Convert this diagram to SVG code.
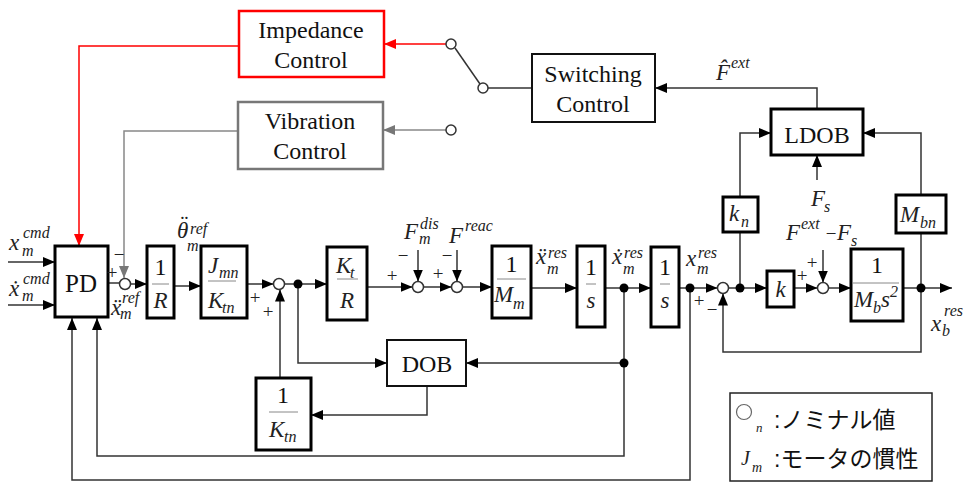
<svg xmlns="http://www.w3.org/2000/svg" width="963" height="482" viewBox="0 0 963 482">
<style>
.box{fill:#fff;stroke:#000;stroke-width:3}
.box2{fill:#fff;stroke:#111;stroke-width:2}
.ln{fill:none;stroke:#333;stroke-width:1.5}
.lr{fill:none;stroke:#f00;stroke-width:1.5}
.lg{fill:none;stroke:#888;stroke-width:1.5}
.sum{fill:#fff;stroke:#333;stroke-width:1.5}
.dot{fill:#000}
.fr{stroke:#888;stroke-width:1}
.t{font-family:"Liberation Serif",serif;font-size:24px;fill:#111;text-anchor:middle}
.n{font-family:"Liberation Serif",serif;font-size:24px;fill:#111;text-anchor:middle}
.mi{font-family:"Liberation Serif",serif;font-style:italic;font-size:23px;fill:#222}
.mc{font-family:"Liberation Serif",serif;font-style:italic;font-size:23px;fill:#222;text-anchor:middle}
.ss{font-family:"Liberation Serif",serif;font-style:italic;font-size:16px;fill:#222}
.sg{font-family:"Liberation Serif",serif;font-size:19px;fill:#222;text-anchor:middle}
.jp{font-family:"Liberation Sans","Noto Sans CJK JP",sans-serif;font-size:23px;fill:#111}
</style>
<defs>
<marker id="ah" markerUnits="userSpaceOnUse" markerWidth="12" markerHeight="10" refX="12" refY="5" orient="auto"><path d="M0,0 L12,5 L0,10 z" fill="#000"/></marker>
<marker id="ahr" markerUnits="userSpaceOnUse" markerWidth="12" markerHeight="10" refX="12" refY="5" orient="auto"><path d="M0,0 L12,5 L0,10 z" fill="#f00"/></marker>
<marker id="ahg" markerUnits="userSpaceOnUse" markerWidth="12" markerHeight="10" refX="12" refY="5" orient="auto"><path d="M0,0 L12,5 L0,10 z" fill="#777"/></marker>
</defs>

<g id="connectors">
<path class="lr" d="M446,44 H384" marker-end="url(#ahr)"/>
<path class="lr" d="M239,46 H79 V246" marker-end="url(#ahr)"/>
<path class="lg" d="M446,130 H383" marker-end="url(#ahg)"/>
<path class="lg" d="M238,131 H124 V278" marker-end="url(#ahg)"/>
<path class="ln" d="M455,48 L480,84"/>
<path class="ln" d="M532,88 H488"/>
<path class="ln" d="M817,109 V88 H655" marker-end="url(#ah)"/>
<path class="ln" d="M817,180 V155" marker-end="url(#ah)"/>
<path class="ln" d="M740,197 V133 H771" marker-end="url(#ah)"/>
<path class="ln" d="M921,195 V133 H863" marker-end="url(#ah)"/>
<path class="ln" d="M8,262 H55" marker-end="url(#ah)"/>
<path class="ln" d="M8,305 H55" marker-end="url(#ah)"/>
<path class="ln" d="M108,283 H119.5"/>
<path class="ln" d="M130.5,284 H147" marker-end="url(#ah)"/>
<path class="ln" d="M174,286 H201" marker-end="url(#ah)"/>
<path class="ln" d="M247,284 H273.5" marker-end="url(#ah)"/>
<path class="ln" d="M284.5,284 H327" marker-end="url(#ah)"/>
<path class="ln" d="M280,378 V289.5" marker-end="url(#ah)"/>
<path class="ln" d="M298,284 V363 H387" marker-end="url(#ah)"/>
<path class="ln" d="M427,386 V415 H311" marker-end="url(#ah)"/>
<path class="ln" d="M367,287 H412.5" marker-end="url(#ah)"/>
<path class="ln" d="M418,250 V281.5" marker-end="url(#ah)"/>
<path class="ln" d="M423.5,287 H451.5" marker-end="url(#ah)"/>
<path class="ln" d="M457,250 V281.5" marker-end="url(#ah)"/>
<path class="ln" d="M462.5,287 H492" marker-end="url(#ah)"/>
<path class="ln" d="M531,288 H577" marker-end="url(#ah)"/>
<path class="ln" d="M605,288 H651" marker-end="url(#ah)"/>
<path class="ln" d="M624,288 V456 H97 V318" marker-end="url(#ah)"/>
<path class="ln" d="M624,363 H466" marker-end="url(#ah)"/>
<path class="ln" d="M679,288 H717.5" marker-end="url(#ah)"/>
<path class="ln" d="M690,288 V480 H72 V318" marker-end="url(#ah)"/>
<path class="ln" d="M728.5,288 H767" marker-end="url(#ah)"/>
<path class="ln" d="M740,288 V232"/>
<path class="ln" d="M794,288 H817.5" marker-end="url(#ah)"/>
<path class="ln" d="M823,250 V282.5" marker-end="url(#ah)"/>
<path class="ln" d="M828.5,288 H851" marker-end="url(#ah)"/>
<path class="ln" d="M903,288 H952" marker-end="url(#ah)"/>
<path class="ln" d="M921,288 V233"/>
<path class="ln" d="M921,288 V352 H723 V293.5" marker-end="url(#ah)"/>
<circle class="sum" cx="451" cy="44" r="5"/>
<circle class="sum" cx="483" cy="88" r="5"/>
<circle class="sum" cx="451" cy="130" r="5"/>
<circle class="sum" cx="125" cy="284" r="5.5"/>
<circle class="sum" cx="279" cy="284" r="5.5"/>
<circle class="sum" cx="418" cy="287" r="5.5"/>
<circle class="sum" cx="457" cy="287" r="5.5"/>
<circle class="sum" cx="723" cy="288" r="5.5"/>
<circle class="sum" cx="823" cy="288" r="5.5"/>
<circle class="dot" cx="298" cy="284" r="4.5"/>
<circle class="dot" cx="624" cy="288" r="4.5"/>
<circle class="dot" cx="624" cy="363" r="4.5"/>
<circle class="dot" cx="690" cy="288" r="4.5"/>
<circle class="dot" cx="740" cy="288" r="4.5"/>
<circle class="dot" cx="921" cy="288" r="4.5"/>
</g>

<g id="impedance">
<rect x="239" y="11" width="145" height="66" fill="#fff" stroke="#f00" stroke-width="2.5"/>
<text class="t" x="311" y="38">Impedance</text>
<text class="t" x="311" y="68">Control</text>
</g>
<g id="vibration">
<rect x="238" y="102" width="145" height="67" fill="#fff" stroke="#777" stroke-width="2.5"/>
<text class="t" x="310" y="129">Vibration</text>
<text class="t" x="310" y="159">Control</text>
</g>
<g id="switching">
<rect class="box2" x="532" y="54" width="123" height="68"/>
<text class="t" x="593" y="82">Switching</text>
<text class="t" x="593" y="112">Control</text>
</g>
<g id="ldob">
<rect class="box" x="771" y="109" width="92" height="46"/>
<text class="t" x="817" y="143">LDOB</text>
</g>
<g id="dob">
<rect class="box2" x="387" y="340" width="79" height="46"/>
<text class="t" x="427" y="372">DOB</text>
</g>
<g id="pd">
<rect class="box" x="55" y="246" width="53" height="71"/>
<text class="t" x="81" y="292" style="font-size:25px">PD</text>
</g>
<g id="inv_r">
<rect class="box" x="147" y="246" width="27" height="72"/>
<text class="n" x="160.5" y="275">1</text>
<line class="fr" x1="152" y1="284" x2="169" y2="284"/>
<text class="mc" x="160.5" y="308">R</text>
</g>
<g id="jmn_ktn">
<rect class="box" x="201" y="246" width="46" height="72"/>
<text class="mi" x="208" y="273">J</text><text class="ss" x="219" y="278">mn</text>
<line class="fr" x1="208" y1="281" x2="236" y2="281"/>
<text class="mi" x="208" y="308">K</text><text class="ss" x="222" y="313">tn</text>
</g>
<g id="kt_r">
<rect class="box" x="327" y="247" width="40" height="73"/>
<text class="mi" x="336" y="273">K</text><text class="ss" x="350" y="278">t</text>
<line class="fr" x1="337" y1="279" x2="358" y2="279"/>
<text class="mc" x="347" y="308">R</text>
</g>
<g id="inv_mm">
<rect class="box" x="492" y="246" width="39" height="72"/>
<text class="n" x="511.5" y="272">1</text>
<line class="fr" x1="497" y1="279" x2="526" y2="279"/>
<text class="mi" x="494" y="302">M</text><text class="ss" x="513" y="309">m</text>
</g>
<g id="integ1">
<rect class="box" x="577" y="246" width="28" height="81"/>
<text class="n" x="591" y="275">1</text>
<line class="fr" x1="586" y1="284" x2="596" y2="284"/>
<text class="mc" x="591" y="308">s</text>
</g>
<g id="integ2">
<rect class="box" x="651" y="247" width="28" height="80"/>
<text class="n" x="665" y="275">1</text>
<line class="fr" x1="660" y1="284" x2="670" y2="284"/>
<text class="mc" x="665" y="308">s</text>
</g>
<g id="inv_ktn">
<rect class="box" x="256" y="378" width="55" height="72"/>
<text class="n" x="283" y="403">1</text>
<line class="fr" x1="269" y1="412" x2="298" y2="412"/>
<text class="mi" x="269" y="437">K</text><text class="ss" x="284" y="442">tn</text>
</g>
<g id="kn">
<rect class="box" x="723" y="197" width="35" height="35"/>
<text class="mi" x="729" y="221">k</text><text class="ss" x="741" y="227">n</text>
</g>
<g id="mbn">
<rect class="box" x="896" y="195" width="50" height="38"/>
<text class="mi" x="900" y="222">M</text><text class="ss" x="920" y="228">bn</text>
</g>
<g id="k">
<rect class="box" x="767" y="271" width="27" height="36"/>
<text class="mc" x="780.5" y="297">k</text>
</g>
<g id="plant">
<rect class="box" x="851" y="249" width="52" height="72"/>
<text class="n" x="877" y="273">1</text>
<line class="fr" x1="853" y1="283" x2="899" y2="283"/>
<text class="mi" x="854" y="307">M</text><text class="ss" x="873" y="313">b</text><text class="mi" x="881" y="307">s</text><text class="ss" x="890" y="297">2</text>
</g>

<g id="labels">
<text class="mi" x="9" y="250">x</text><text class="ss" x="23" y="238">cmd</text><text class="ss" x="22" y="256">m</text>
<text class="mi" x="9" y="296">ẋ</text><text class="ss" x="23" y="284">cmd</text><text class="ss" x="22" y="301">m</text>
<text class="mi" x="111" y="315">ẍ</text><text class="ss" x="122" y="303">ref</text><text class="ss" x="120" y="319">m</text>
<text class="mi" x="177" y="238">θ</text><text class="mi" x="179" y="232">¨</text><text class="ss" x="190" y="234">ref</text><text class="ss" x="187" y="251">m</text>
<text class="mi" x="404" y="239">F</text><text class="ss" x="420" y="229">dis</text><text class="ss" x="419" y="244">m</text>
<text class="mi" x="449" y="243">F</text><text class="ss" x="465" y="231">reac</text>
<text class="mi" x="536" y="264">ẍ</text><text class="ss" x="548" y="258">res</text><text class="ss" x="547" y="274">m</text>
<text class="mi" x="612" y="264">ẋ</text><text class="ss" x="624" y="258">res</text><text class="ss" x="623" y="274">m</text>
<text class="mi" x="686" y="266">x</text><text class="ss" x="698" y="258">res</text><text class="ss" x="697" y="274">m</text>
<text class="mi" x="716" y="80">F̂</text><text class="ss" x="731" y="68">ext</text>
<text class="mi" x="811" y="206">F</text><text class="ss" x="824" y="212">s</text>
<text class="mi" x="786" y="240">F</text><text class="ss" x="801" y="229">ext</text><text class="sg" x="831" y="240">−</text><text class="mi" x="837" y="240">F</text><text class="ss" x="851" y="246">s</text>
<text class="mi" x="931" y="331">x</text><text class="ss" x="944" y="316">res</text><text class="ss" x="942" y="336">b</text>
<text class="sg" x="112" y="279">+</text><text class="sg" x="119" y="261">−</text>
<text class="sg" x="255" y="304">+</text><text class="sg" x="268" y="318">+</text>
<text class="sg" x="392" y="282">+</text><text class="sg" x="403" y="262">−</text>
<text class="sg" x="438" y="280">+</text><text class="sg" x="447" y="262">−</text>
<text class="sg" x="699" y="307">+</text><text class="sg" x="712" y="316">−</text>
<text class="sg" x="802" y="282">+</text><text class="sg" x="812" y="269">+</text>
</g>

<g id="legend">
<rect x="730" y="393" width="202" height="88" fill="#fff" stroke="#222" stroke-width="1.5"/>
<circle cx="744" cy="412" r="7.5" fill="none" stroke="#666" stroke-width="1.2"/>
<text class="ss" x="756" y="432" style="font-size:13px">n</text>
<text class="jp" x="774" y="428">:ノミナル値</text>
<text class="mi" x="741" y="465" style="font-size:20px">J</text><text class="ss" x="752" y="472" style="font-size:14px">m</text>
<text class="jp" x="774" y="467">:モータの慣性</text>
</g>
</svg>
